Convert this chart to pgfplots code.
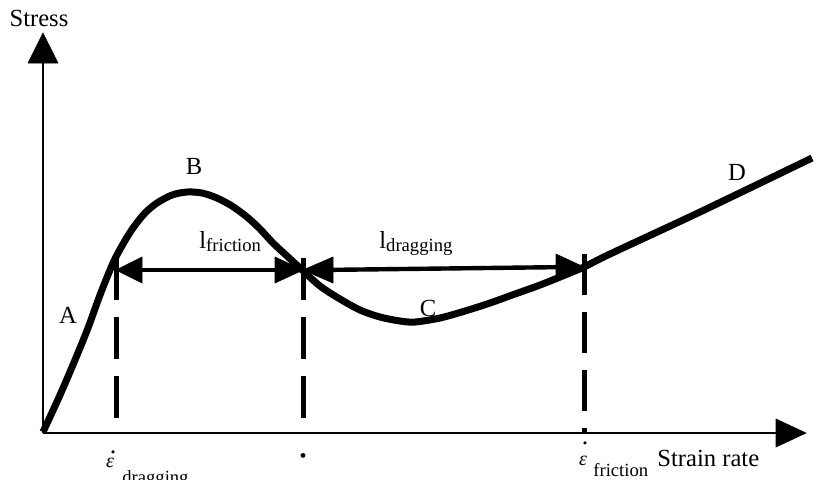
\documentclass[border=0pt]{standalone}
\usepackage{pgfplots}
\pgfplotsset{compat=1.18}
\usepackage{fontspec}
\setmainfont{Liberation Serif}
\newcommand{\mainf}{\fontsize{12.3}{14}\selectfont}
\newcommand{\subf}{\fontsize{9.3}{11}\selectfont}
\begin{document}
\begin{tikzpicture}
\begin{axis}[
  scale only axis, width=411pt, height=239.5pt,
  xmin=0, xmax=822, ymin=0, ymax=479, y dir=reverse,
  hide axis, clip=false,
]
% axes
\addplot[black, line width=0.6pt] coordinates {(43,433)(43,60)};
\addplot[black, fill=black, line width=0.3pt] coordinates {(28,63)(58,63)(43,33)(28,63)};
\addplot[black, line width=0.6pt] coordinates {(43,433)(778,433)};
\addplot[black, fill=black, line width=0.3pt] coordinates {(776,419)(776,447)(806,433)(776,419)};
% dashed verticals
\addplot[black, line width=2.5pt, dash pattern=on 21pt off 8.5pt] coordinates {(116,258)(116,433)};
\addplot[black, line width=2.5pt, dash pattern=on 21pt off 8.5pt] coordinates {(303,258)(303,433)};
\addplot[black, line width=2.5pt, dash pattern=on 20.5pt off 8.5pt] coordinates {(584,254)(584,433)};
% dimension arrows
\addplot[black, line width=2.2pt] coordinates {(130,270)(290,270)};
\addplot[black, fill=black, line width=0.3pt] coordinates {(116,270)(142,257)(142,283)(116,270)};
\addplot[black, fill=black, line width=0.3pt] coordinates {(303,270)(275,257)(275,283)(303,270)};
\addplot[black, line width=2.2pt] coordinates {(318,270)(570,267)};
\addplot[black, fill=black, line width=0.3pt] coordinates {(303,270)(333,257)(333,283)(303,270)};
\addplot[black, fill=black, line width=0.3pt] coordinates {(584,267)(556,254)(556,280)(584,267)};
% curve
\addplot[black, line width=3.5pt, smooth, line join=round] coordinates {
 (43,432)(60,395)(75,360)(88,328)(100,295)(113,263)(123,244)(133,228)
 (145,213)(157,203)(172,195)(187,192)(202,193)(217,198)(232,206)(247,217)
 (260,229)(273,243)(287,256)(300,268)(320,286)(340,299)(360,310)(380,317)
 (400,321)(415,322)(440,318)(465,311)(490,303)(515,294)(540,285)(565,275)
 (584,267)(610,254)(700,212)(812,158)
};
% labels
\node[font=\mainf] at (axis cs:39,18) {Stress};
\node[font=\mainf] at (axis cs:194,166) {B};
\node[font=\mainf] at (axis cs:428,308) {C};
\node[font=\mainf] at (axis cs:737,172) {D};
\node[font=\mainf] at (axis cs:68,315) {A};
\node[font=\mainf, anchor=base west, inner sep=0pt] at (axis cs:199,248) {l\raisebox{-0.3ex}{\subf friction}};
\node[font=\mainf, anchor=base west, inner sep=0pt] at (axis cs:379,248) {l\raisebox{-0.3ex}{\subf dragging}};
% bottom labels
\node[font=\fontsize{13}{14}\selectfont, inner sep=0pt] at (axis cs:113,452) {.};
\node[font=\fontsize{10}{12}\selectfont\itshape, anchor=base, inner sep=0pt] at (axis cs:110,467) {ε};
\node[font=\subf, anchor=base west, inner sep=0pt] at (axis cs:122,483) {dragging};
\node[font=\fontsize{10}{12}\selectfont, inner sep=0pt] at (axis cs:303,458) {•};
\node[font=\fontsize{13}{14}\selectfont, inner sep=0pt] at (axis cs:585,443) {.};
\node[font=\fontsize{10}{12}\selectfont\itshape, anchor=base, inner sep=0pt] at (axis cs:583,465) {ε};
\node[font=\subf, anchor=base west, inner sep=0pt] at (axis cs:593,476) {friction};
\node[font=\mainf, anchor=base west, inner sep=0pt] at (axis cs:657,466) {Strain rate};
\end{axis}
\pgfresetboundingbox
\path[use as bounding box] (current axis.south west) rectangle (current axis.north east);
\end{tikzpicture}
\end{document}
